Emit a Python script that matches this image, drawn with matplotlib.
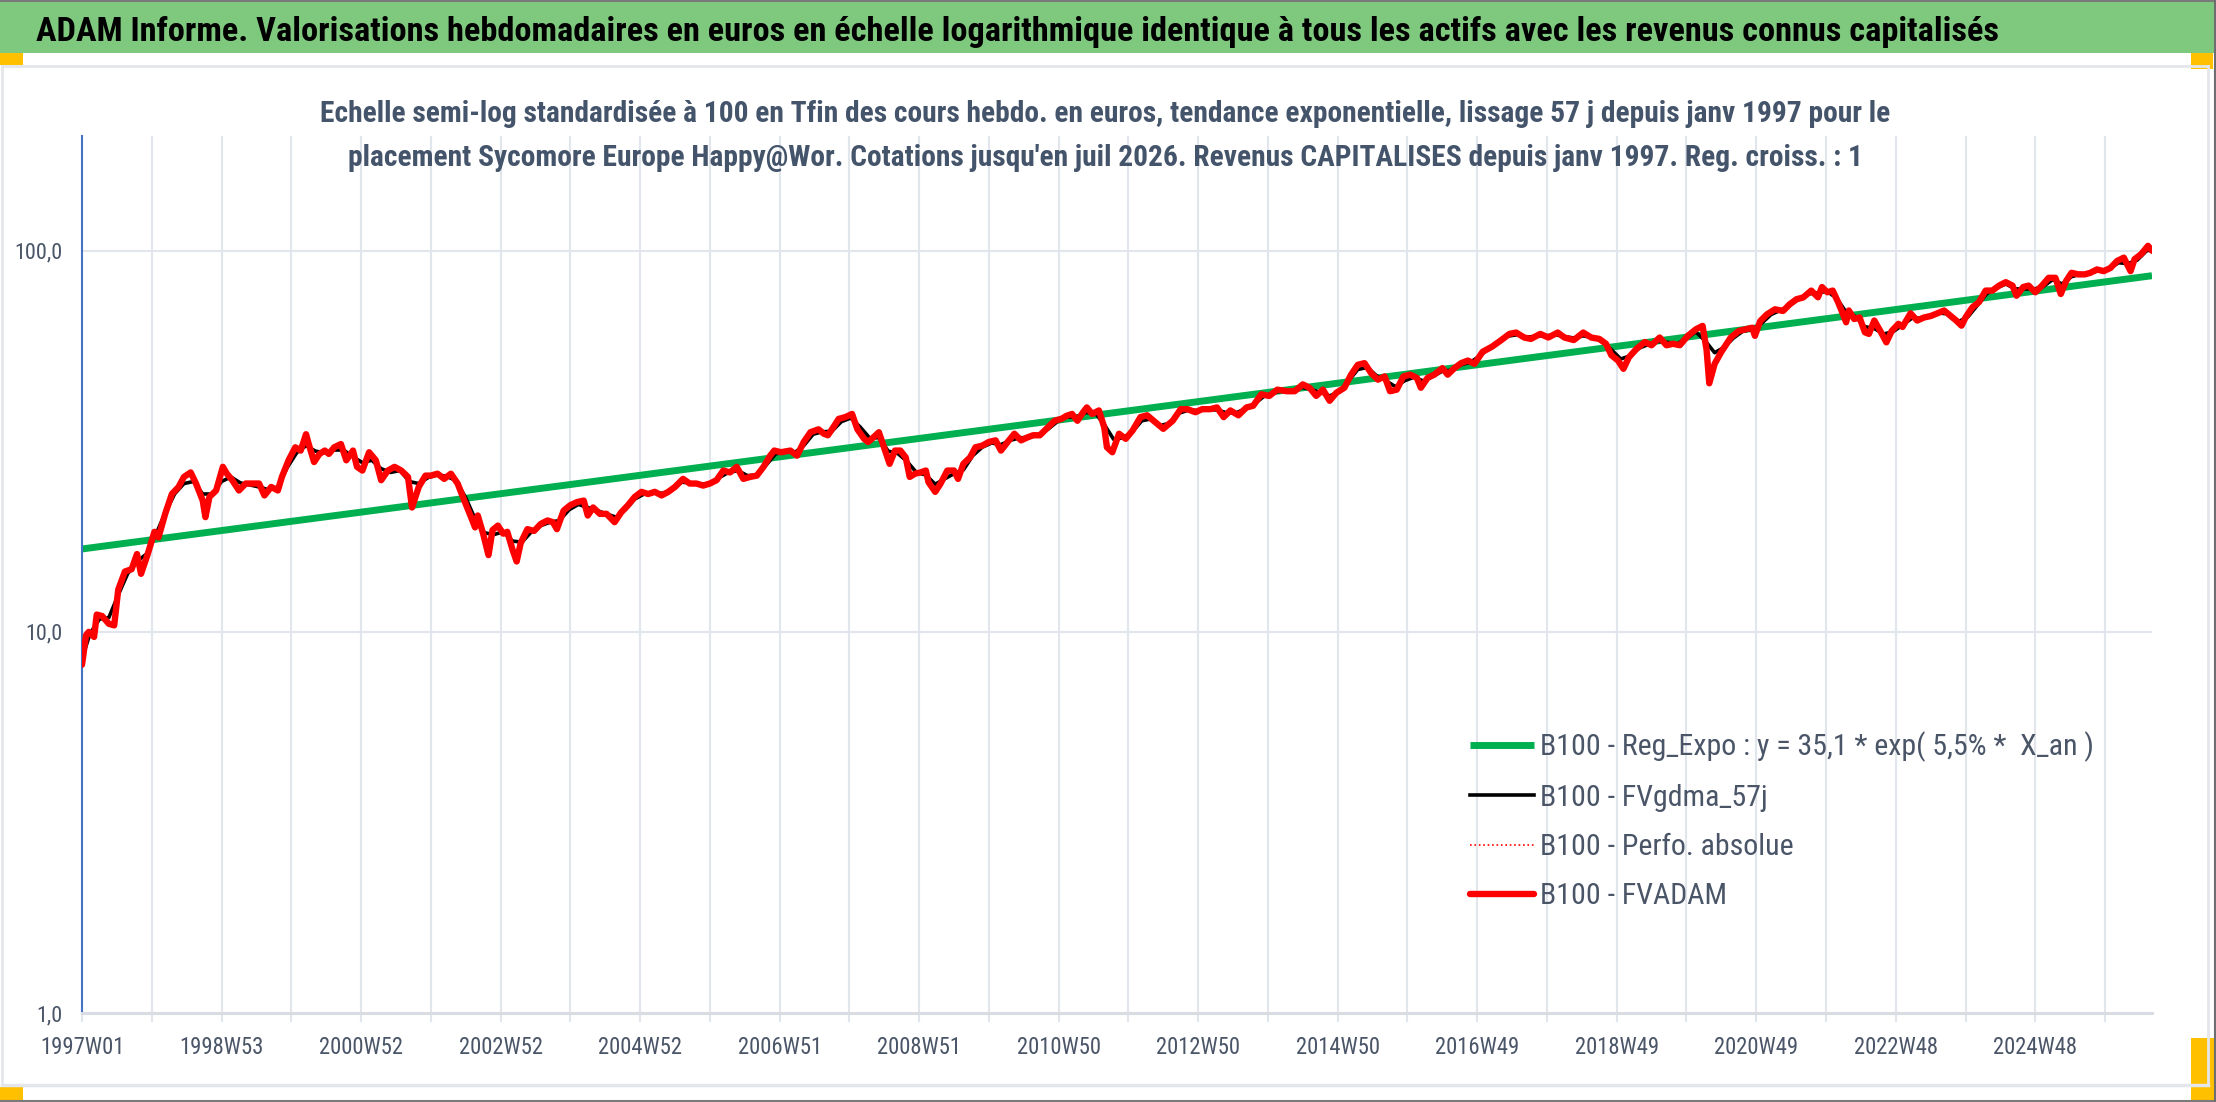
import os
import matplotlib
matplotlib.use("Agg")
import matplotlib.pyplot as plt
import matplotlib.font_manager as fm
from matplotlib.patches import Rectangle
from matplotlib.lines import Line2D
from matplotlib.ticker import NullLocator

# ---------------------------------------------------------------
# Données (semaines depuis 1997W01, base 100)
# ---------------------------------------------------------------
n_weeks = 1544

tick_labels = ["1997W01", "1998W53", "2000W52", "2002W52", "2004W52", "2006W51",
               "2008W51", "2010W50", "2012W50", "2014W50", "2016W49", "2018W49",
               "2020W49", "2022W48", "2024W48"]

# régression exponentielle : extrémités de la droite (échelle log)
reg_week = [0, 1543]
reg_val = [16.5, 86.0]

# FVADAM (courbe rouge)
red_week = [0, 3, 5, 9, 11, 15, 20, 24, 27, 32, 37, 41, 44, 49, 54, 57, 62, 67, 72, 76,
            81, 85, 90, 92, 95, 100, 105, 108, 112, 117, 122, 127, 132, 136, 141, 146, 149, 154, 159, 163,
            167, 169, 173, 177, 181, 184, 188, 193, 197, 202, 205, 209, 214, 219, 223, 228, 233, 238, 243, 246,
            251, 256, 260, 265, 270, 275, 280, 285, 290, 293, 295, 299, 303, 306, 310, 314, 317, 321, 324, 327,
            332, 337, 342, 347, 351, 354, 359, 364, 369, 374, 377, 381, 386, 391, 397, 402, 407, 412, 417, 422,
            427, 432, 437, 442, 448, 453, 458, 463, 468, 473, 478, 483, 488, 493, 498, 503, 508, 513, 516, 521,
            528, 533, 538, 543, 549, 553, 556, 560, 564, 569, 574, 578, 583, 586, 590, 594, 597, 602, 606, 610,
            614, 617, 621, 625, 629, 631, 636, 640, 645, 650, 653, 657, 662, 666, 671, 676, 681, 685, 690, 695,
            700, 705, 709, 714, 720, 725, 730, 734, 738, 742, 746, 749, 753, 758, 762, 764, 768, 773, 778, 783,
            789, 794, 800, 806, 813, 819, 824, 830, 835, 841, 846, 851, 856, 862, 868, 873, 879, 885, 891, 898,
            904, 910, 915, 920, 925, 930, 935, 941, 946, 951, 956, 961, 966, 971, 975, 980, 985, 990, 995, 998,
            1003, 1008, 1014, 1018, 1023, 1028, 1033, 1038, 1044, 1051, 1058, 1064, 1069, 1075, 1080, 1087, 1093, 1100, 1105, 1112,
            1119, 1125, 1131, 1136, 1140, 1145, 1149, 1153, 1159, 1165, 1170, 1176, 1181, 1186, 1191, 1197, 1203, 1208, 1211, 1213,
            1217, 1222, 1229, 1235, 1240, 1245, 1247, 1251, 1256, 1262, 1268, 1273, 1278, 1283, 1289, 1294, 1297, 1301, 1305, 1309,
            1312, 1315, 1317, 1321, 1325, 1329, 1332, 1336, 1341, 1345, 1349, 1354, 1357, 1363, 1368, 1373, 1378, 1383, 1388, 1393,
            1397, 1401, 1404, 1409, 1414, 1419, 1424, 1429, 1434, 1439, 1442, 1447, 1451, 1456, 1461, 1466, 1471, 1475, 1479, 1483,
            1488, 1493, 1497, 1502, 1507, 1512, 1517, 1522, 1527, 1530, 1535, 1540, 1543]
red_val = [8.2, 9.8, 10.0, 9.7, 11.1, 11.0, 10.5, 10.4, 12.9, 14.4, 14.6, 16.0, 14.2, 16.0, 18.3, 17.7, 20.4, 23.0, 24.0, 25.5,
           26.2, 24.5, 22.1, 20.0, 22.6, 23.5, 27.1, 26.0, 25.0, 23.5, 24.5, 24.5, 24.5, 22.8, 24.0, 23.5, 25.5, 28.2, 30.5, 29.9,
           33.0, 31.1, 27.9, 29.3, 29.9, 29.3, 30.5, 31.1, 28.2, 29.9, 27.1, 26.5, 29.6, 28.2, 25.0, 26.5, 27.1, 26.5, 25.5, 21.2,
           24.0, 25.7, 25.7, 26.0, 25.2, 26.0, 24.5, 22.1, 20.0, 18.8, 20.2, 18.1, 15.9, 18.5, 19.0, 18.1, 18.3, 16.4, 15.3, 17.1,
           18.6, 18.4, 19.2, 19.6, 19.4, 18.6, 20.8, 21.5, 21.9, 22.1, 20.2, 21.2, 20.4, 20.4, 19.4, 20.6, 21.5, 22.6, 23.3, 23.0,
           23.3, 22.8, 23.3, 24.0, 25.2, 24.5, 24.5, 24.2, 24.5, 25.0, 26.5, 26.2, 27.1, 25.2, 25.5, 25.7, 27.1, 29.0, 29.9, 29.6,
           29.9, 29.0, 31.5, 33.4, 34.0, 33.1, 32.8, 34.4, 36.2, 36.6, 37.3, 34.0, 32.1, 31.5, 32.4, 33.4, 31.1, 27.6, 29.9, 29.9,
           28.7, 25.5, 26.0, 26.2, 26.5, 24.7, 23.3, 24.5, 26.5, 26.5, 25.2, 27.6, 28.7, 30.5, 30.8, 31.5, 31.8, 29.9, 31.5, 33.1,
           31.8, 32.4, 32.8, 32.8, 34.4, 35.8, 36.2, 36.9, 37.3, 35.8, 37.6, 38.8, 37.3, 38.1, 34.4, 30.5, 29.6, 33.1, 32.1, 33.7,
           36.6, 37.0, 35.5, 34.1, 35.8, 38.4, 38.4, 37.7, 38.4, 38.4, 38.8, 36.6, 38.1, 37.0, 38.8, 39.2, 42.0, 41.6, 43.2, 42.8,
           42.8, 44.6, 43.7, 41.6, 43.2, 40.4, 42.4, 43.7, 47.3, 50.2, 50.7, 47.7, 45.9, 46.8, 42.8, 43.2, 46.8, 47.3, 46.4, 43.7,
           46.4, 47.3, 49.2, 47.3, 49.2, 50.7, 51.5, 50.5, 54.3, 56.0, 58.3, 60.5, 61.0, 59.2, 58.7, 60.5, 59.2, 61.0, 59.2, 58.3,
           61.0, 59.2, 58.7, 57.0, 53.2, 51.5, 49.0, 52.5, 55.4, 57.6, 56.5, 59.2, 56.5, 57.0, 56.5, 59.8, 62.2, 63.5, 54.9, 44.9,
           50.5, 54.3, 59.2, 61.6, 62.2, 62.8, 59.8, 65.4, 68.1, 70.2, 69.5, 72.4, 74.6, 75.4, 78.6, 75.5, 80.3, 77.8, 78.6, 73.3,
           69.1, 64.9, 69.7, 66.2, 66.8, 61.1, 60.5, 65.6, 61.1, 57.5, 61.6, 64.3, 63.1, 68.5, 65.6, 66.8, 67.4, 68.5, 69.7, 67.4,
           65.6, 63.6, 66.8, 71.0, 73.3, 78.6, 78.6, 81.0, 82.7, 81.0, 76.2, 80.3, 81.0, 77.8, 81.0, 84.9, 84.9, 77.0, 83.3, 87.5,
           86.7, 86.7, 87.5, 89.3, 88.4, 90.1, 94.0, 95.9, 88.4, 95.0, 98.0, 103.0, 100.0]

# FVgdma_57j (moyenne lissée, courbe noire)
black_week = [0, 6, 13, 20, 27, 34, 41, 48, 55, 62, 69, 76, 83, 90, 97, 104, 111, 118, 125, 132,
              139, 146, 153, 160, 167, 174, 181, 188, 195, 202, 209, 216, 223, 230, 237, 244, 251, 258, 265, 272,
              279, 286, 293, 300, 307, 314, 321, 328, 335, 342, 349, 356, 363, 370, 377, 384, 391, 398, 405, 412,
              419, 426, 433, 440, 447, 454, 461, 468, 475, 482, 489, 496, 503, 510, 517, 524, 531, 538, 545, 552,
              559, 566, 573, 580, 587, 594, 601, 608, 615, 622, 629, 636, 643, 650, 657, 664, 671, 678, 685, 692,
              699, 706, 713, 720, 727, 734, 741, 748, 755, 762, 769, 776, 783, 790, 797, 804, 811, 818, 825, 832,
              839, 846, 853, 860, 867, 874, 881, 888, 895, 902, 909, 916, 923, 930, 937, 944, 951, 958, 965, 972,
              979, 986, 993, 1000, 1007, 1014, 1021, 1028, 1035, 1042, 1049, 1056, 1063, 1070, 1077, 1084, 1091, 1098, 1105, 1112,
              1119, 1126, 1133, 1140, 1147, 1154, 1161, 1168, 1175, 1182, 1189, 1196, 1203, 1210, 1217, 1224, 1231, 1238, 1245, 1252,
              1259, 1266, 1273, 1280, 1287, 1294, 1301, 1308, 1315, 1322, 1329, 1336, 1343, 1350, 1357, 1364, 1371, 1378, 1385, 1392,
              1399, 1406, 1413, 1420, 1427, 1434, 1441, 1448, 1455, 1462, 1469, 1476, 1483, 1490, 1497, 1504, 1511, 1518, 1525, 1532,
              1539, 1543]
black_val = [8.5, 9.9, 10.8, 10.9, 12.5, 14.2, 15.3, 16.0, 18.0, 20.5, 23.0, 24.5, 24.8, 23.0, 23.0, 24.8, 25.5, 24.6, 24.3, 24.0,
             23.6, 24.0, 27.0, 29.5, 30.8, 29.8, 29.5, 30.0, 30.0, 28.8, 27.8, 28.2, 26.8, 26.2, 26.5, 24.8, 24.5, 25.4, 25.8, 25.6,
             24.9, 22.5, 19.8, 18.2, 18.0, 18.3, 17.3, 17.2, 18.3, 19.0, 19.4, 19.6, 20.9, 21.6, 21.2, 20.8, 20.4, 20.0, 20.9, 22.3,
             23.0, 23.2, 23.1, 23.6, 24.7, 24.6, 24.4, 24.5, 25.4, 26.2, 26.5, 25.7, 25.8, 27.4, 29.3, 29.7, 29.5, 30.8, 33.0, 33.5,
             33.6, 35.6, 36.4, 34.5, 32.3, 32.3, 29.8, 29.4, 28.0, 26.2, 25.8, 24.4, 25.2, 26.0, 26.6, 29.0, 30.5, 31.3, 31.0, 31.8,
             32.3, 32.4, 32.8, 34.0, 35.6, 36.6, 36.6, 37.6, 37.6, 35.0, 32.0, 32.3, 33.5, 35.8, 36.2, 34.8, 35.3, 37.5, 38.2, 38.1,
             38.3, 38.2, 37.6, 37.5, 38.5, 39.6, 41.5, 42.4, 42.9, 43.0, 43.8, 43.3, 42.5, 41.6, 42.6, 45.5, 48.8, 49.4, 47.0, 45.6,
             44.0, 45.6, 46.6, 45.5, 46.8, 48.3, 48.6, 50.2, 51.0, 53.0, 55.6, 57.8, 59.7, 60.2, 59.3, 59.7, 59.8, 60.2, 59.6, 59.0,
             59.8, 59.2, 58.0, 55.0, 52.0, 53.0, 55.6, 56.8, 57.8, 57.5, 57.0, 58.8, 61.2, 58.0, 54.0, 55.8, 59.0, 61.5, 62.2, 64.5,
             68.0, 69.8, 71.8, 74.8, 77.0, 77.6, 78.2, 75.0, 69.0, 67.2, 63.2, 62.5, 60.5, 61.3, 63.8, 66.5, 66.6, 67.4, 68.6, 68.2,
             65.2, 67.2, 72.0, 77.2, 79.8, 81.8, 79.4, 79.4, 79.3, 80.6, 84.0, 81.8, 85.5, 86.8, 87.4, 88.8, 89.6, 93.0, 92.5, 94.5,
             100.0, 100.5]

legend_labels = ["B100 - Reg_Expo : y = 35,1 * exp( 5,5% *  X_an )",
                 "B100 - FVgdma_57j",
                 "B100 - Perfo. absolue",
                 "B100 - FVADAM"]

title = ("ADAM Informe. Valorisations hebdomadaires en euros en échelle logarithmique "
         "identique à tous les actifs avec les revenus connus capitalisés")
subtitle_1 = ("Echelle semi-log standardisée à 100 en Tfin des cours hebdo. en euros, tendance "
              "exponentielle, lissage 57 j depuis janv 1997 pour le")
subtitle_2 = ("placement Sycomore Europe Happy@Wor. Cotations jusqu'en juil 2026. Revenus "
              "CAPITALISES depuis janv 1997. Reg. croiss. : 1")

# ---------------------------------------------------------------
# Police étroite (le rendu Excel est très serré) : on cherche un fichier
# "Condensed"/"Narrow" installé, sinon Liberation Sans
# ---------------------------------------------------------------
paths = {os.path.splitext(os.path.basename(f.fname))[0].lower(): f.fname
         for f in fm.fontManager.ttflist}
pairs = [("liberationsansnarrow-regular", "liberationsansnarrow-bold"),
         ("notosans-condensed", "notosans-condensedbold"),
         ("robotocondensed-regular", "robotocondensed-bold"),
         ("opensans-condensedregular", "opensans-condensedbold"),
         ("opensans_condensed-regular", "opensans_condensed-bold"),
         ("dejavusanscondensed", "dejavusanscondensed-bold")]
fp_reg = fm.FontProperties(family="Liberation Sans")
fp_bold = fm.FontProperties(family="Liberation Sans", weight="bold")
for r, b in pairs:
    if r in paths and b in paths:
        fp_reg = fm.FontProperties(fname=paths[r])
        fp_bold = fm.FontProperties(fname=paths[b])
        break

W, H = 2216, 1102
grid_col = "#E1E5EC"
text_col = "#4A5568"

fig = plt.figure(figsize=(W / 100, H / 100), dpi=100)
renderer = fig.canvas.get_renderer()


def fx(x):
    return x / W


def fy(y):
    return 1 - y / H


def sized(fp, size):
    p = fp.copy()
    p.set_size(size)
    return p


def measure(s, fp, size):
    t = fig.text(0, 0, s, fontproperties=sized(fp, size))
    bb = t.get_window_extent(renderer)
    t.remove()
    return bb.width, bb.height


def fit(s, fp, width_px):
    w, _ = measure(s, fp, 20)
    return 20 * width_px / w


def rect(x0, y0, x1, y1, color):
    fig.patches.append(Rectangle((fx(x0), fy(y1)), fx(x1 - x0), (y1 - y0) / H,
                                 transform=fig.transFigure, color=color, lw=0, zorder=0))


def hline(x0, x1, y, color, lw):
    fig.add_artist(Line2D([fx(x0), fx(x1)], [fy(y), fy(y)], transform=fig.transFigure,
                          color=color, lw=lw, zorder=1))


def vline(x, y0, y1, color, lw):
    fig.add_artist(Line2D([fx(x), fx(x)], [fy(y0), fy(y1)], transform=fig.transFigure,
                          color=color, lw=lw, zorder=1))


# tailles de police calées sur les largeurs mesurées dans l'image
size_title = fit(title, fp_bold, 1958)
size_sub = fit(subtitle_1, fp_bold, 1566)
size_leg = fit(legend_labels[0], fp_reg, 553)
size_xt = fit("1997W01", fp_reg, 84)
size_yt = fit("100,0", fp_reg, 48)

# bandeau vert du titre + cadre de la feuille
rect(0, 2, 2214, 53, "#7FC97F")
hline(0, W, 1, "#7A7A7A", 1.5)
hline(0, W, 1101, "#7A7A7A", 1.5)
hline(2, 2208, 66, "#E3E6EA", 2.0)
hline(2, 2208, 1085, "#E3E6EA", 2.5)
vline(2, 66, 1085, "#E3E6EA", 2.0)
vline(2208, 66, 1085, "#E3E6EA", 2.0)
vline(2215, 0, H, "#6E6E6E", 1.5)
rect(0, 53, 23, 65, "#FFC000")
rect(2191, 53, 2213, 69, "#FFC000")
rect(0, 1087, 23, 1100, "#FFC000")
rect(2191, 1038, 2214, 1100, "#FFC000")

fig.text(fx(36), fy(41), title, fontproperties=sized(fp_bold, size_title), color="black",
         ha="left", va="baseline")
fig.text(fx(1105), fy(122), subtitle_1, fontproperties=sized(fp_bold, size_sub),
         color="#44546A", ha="center", va="baseline", zorder=5)
fig.text(fx(1105), fy(166), subtitle_2, fontproperties=sized(fp_bold, size_sub),
         color="#44546A", ha="center", va="baseline", zorder=5)

# ---------------------------------------------------------------
# Zone de tracé
# ---------------------------------------------------------------
ax = fig.add_axes([fx(82), fy(1013), fx(2152 - 82), (1013 - 136) / H])
ax.set_yscale("log")
ax.set_ylim(1, 200)
ax.set_xlim(0, n_weeks - 1)

ln_reg, = ax.plot(reg_week, reg_val, color="#00B050", lw=5.0, solid_capstyle="butt",
                  label=legend_labels[0], zorder=2)
ln_black, = ax.plot(black_week, black_val, color="black", lw=2.6, solid_joinstyle="round",
                    label=legend_labels[1], zorder=3)
ln_dot, = ax.plot(red_week, red_val, color="#FF0000", lw=1.2, ls=":",
                  label=legend_labels[2], zorder=4)
ln_red, = ax.plot(red_week, red_val, color="#FF0000", lw=4.6, solid_joinstyle="round",
                  solid_capstyle="round", label=legend_labels[3], zorder=5)

# axe des catégories : graduation tous les 52 points, étiquette tous les 104
xt = list(range(0, n_weeks, 52))
ax.set_xticks(xt)
ax.set_xticklabels([tick_labels[i // 2] if i % 2 == 0 else "" for i in range(len(xt))],
                   fontproperties=sized(fp_reg, size_xt), color=text_col)
ax.set_yticks([1, 10, 100])
ax.set_yticklabels(["1,0", "10,0", "100,0"], fontproperties=sized(fp_reg, size_yt),
                   color=text_col)
ax.yaxis.set_minor_locator(NullLocator())

ax.set_axisbelow(True)
ax.grid(True, axis="both", color=grid_col, lw=1.5)
ax.tick_params(axis="x", length=6.5, width=1.5, color=grid_col, pad=10)
ax.tick_params(axis="y", length=0, pad=14)

for s in ["top", "right"]:
    ax.spines[s].set_visible(False)
ax.spines["left"].set_color("#4472C4")
ax.spines["left"].set_linewidth(1.5)
ax.spines["bottom"].set_color("#D9DDE3")
ax.spines["bottom"].set_linewidth(2.2)

# légende : lignes espacées de 50 px, premier symbole à x=1470, centre y=747
fs_px = size_leg * 100 / 72
_, h_leg = measure(legend_labels[0], fp_reg, size_leg)
leg = fig.legend(handles=[ln_reg, ln_black, ln_dot, ln_red], loc="upper left",
                 bbox_to_anchor=(fx(1470), fy(747 - h_leg / 2)), frameon=False,
                 prop=sized(fp_reg, size_leg), handlelength=64 / fs_px,
                 handletextpad=6 / fs_px, labelspacing=(52 - h_leg) / fs_px,
                 borderpad=0, borderaxespad=0)
for t in leg.get_texts():
    t.set_color(text_col)

fig.savefig("out.png", dpi=100)
